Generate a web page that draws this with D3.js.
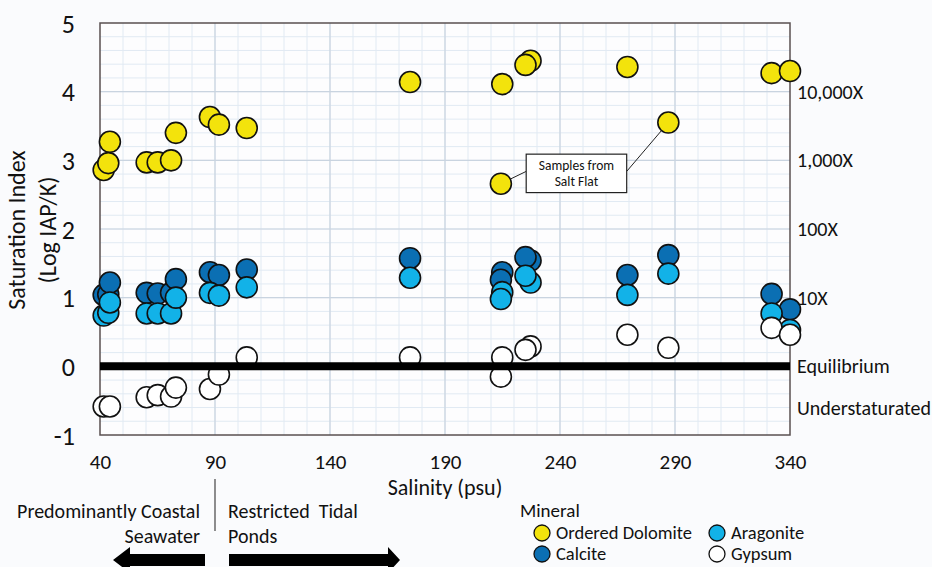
<!DOCTYPE html>
<html>
<head>
<meta charset="utf-8">
<script src="https://cdn.jsdelivr.net/npm/d3@7"></script>
<style>
  body { margin: 0; background: #fafbfd; }
  text { font-family: Carlito, "Liberation Sans Narrow", "Open Sans", sans-serif; fill: #111; }
</style>
</head>
<body>
<script>
// salinity (psu) of each sample, and saturation index per mineral
var salinity  = [41.6, 43.6, 44.3, 60.3, 65.1, 70.9, 73.0, 87.8, 91.7, 103.8, 174.8, 214.9, 214.3, 227.2, 225.0, 269.3, 287.1, 332.0, 340.0];
var dolomite  = [2.86, 2.96, 3.27, 2.97, 2.97, 3.00, 3.40, 3.63, 3.52, 3.47, 4.14, 4.11, 2.66, 4.45, 4.39, 4.36, 3.55, 4.27, 4.30];
var calcite   = [1.04, 1.05, 1.22, 1.07, 1.06, 1.07, 1.27, 1.37, 1.33, 1.41, 1.575, 1.37, 1.26, 1.54, 1.59, 1.33, 1.62, 1.055, 0.83];
var aragonite = [0.74, 0.78, 0.93, 0.77, 0.77, 0.77, 1.00, 1.07, 1.03, 1.15, 1.29, 1.08, 0.98, 1.22, 1.32, 1.04, 1.35, 0.77, 0.53];
var gypsum    = [-0.585, null, -0.585, -0.45, -0.42, -0.44, -0.31, -0.33, -0.12, 0.13, 0.13, 0.13, -0.15, 0.29, 0.24, 0.46, 0.27, 0.56, 0.46];

var minerals = ["Ordered Dolomite", "Calcite", "Aragonite", "Gypsum"];
var mineralColors = ["#f3e30c", "#0b6fb3", "#12b2e8", "#ffffff"];
var seriesValues = [dolomite, calcite, aragonite, gypsum];

var xTicks = [40, 90, 140, 190, 240, 290, 340];
var yTicks = [-1, 0, 1, 2, 3, 4, 5];
var rightLabels = ["10,000X", "1,000X", "100X", "10X", "Equilibrium", "Understaturated"];
var rightLabelSI = [4, 3, 2, 1, 0, -0.6];
var saltFlat = [12, 16]; // sample index of the salt flat points

var width = 932, height = 567;
var margin = {left: 100, right: 142, top: 23, bottom: 132};

var svg = d3.select("body").append("svg")
	.attr("width", width)
	.attr("height", height);

var x = d3.scaleLinear().domain([40, 340]).range([margin.left, width - margin.right]);
var y = d3.scaleLinear().domain([-1, 5]).range([height - margin.bottom, margin.top]);

var plot = svg.append("g");

plot.append("rect")
	.attr("x", x(40)).attr("y", y(5))
	.attr("width", x(340) - x(40)).attr("height", y(-1) - y(5))
	.attr("fill", "#fdfdfe");

// minor grid
plot.selectAll(".vminor").data(d3.range(50, 340, 10))
	.enter().append("line")
	.attr("x1", function(d){ return x(d); }).attr("x2", function(d){ return x(d); })
	.attr("y1", y(5)).attr("y2", y(-1))
	.attr("stroke", "#e1eaf3").attr("stroke-width", 1);
plot.selectAll(".hminor").data(d3.range(-0.8, 5, 0.2))
	.enter().append("line")
	.attr("y1", function(d){ return y(d); }).attr("y2", function(d){ return y(d); })
	.attr("x1", x(40)).attr("x2", x(340))
	.attr("stroke", "#e1eaf3").attr("stroke-width", 1);

// major grid
plot.selectAll(".vmajor").data(xTicks.slice(1, -1))
	.enter().append("line")
	.attr("x1", function(d){ return x(d); }).attr("x2", function(d){ return x(d); })
	.attr("y1", y(5)).attr("y2", y(-1))
	.attr("stroke", "#c9d4e0").attr("stroke-width", 1.2);
plot.selectAll(".hmajor").data(yTicks.slice(1, -1))
	.enter().append("line")
	.attr("y1", function(d){ return y(d); }).attr("y2", function(d){ return y(d); })
	.attr("x1", x(40)).attr("x2", x(340))
	.attr("stroke", "#c9d4e0").attr("stroke-width", 1.2);

// frame
plot.append("rect")
	.attr("x", x(40)).attr("y", y(5))
	.attr("width", x(340) - x(40)).attr("height", y(-1) - y(5))
	.attr("fill", "none").attr("stroke", "#5a5050").attr("stroke-width", 1.5);

// axes (labels only)
var xAxis = svg.append("g")
	.attr("transform", "translate(0," + (y(-1) + 24) + ")")
	.call(d3.axisBottom(x).tickValues(xTicks).tickSize(0).tickFormat(function(d){ return String(d); }));
xAxis.select(".domain").remove();
xAxis.selectAll("text").attr("font-size", 21).attr("dy", "0.35em").attr("fill", "#111");

var yAxis = svg.append("g")
	.attr("transform", "translate(" + (x(40) - 22) + ",0)")
	.call(d3.axisLeft(y).tickValues(yTicks).tickSize(0).tickFormat(function(d){ return String(d); }));
yAxis.select(".domain").remove();
yAxis.selectAll("text").attr("font-size", 26).attr("dy", "0.35em").attr("fill", "#111");

svg.append("text")
	.attr("x", x(190)).attr("y", y(-1) + 60)
	.attr("text-anchor", "middle").attr("font-size", 22)
	.text("Salinity (psu)");

var yTitle = svg.append("text")
	.attr("transform", "translate(25," + (y(2) + 1) + ") rotate(-90)")
	.attr("text-anchor", "middle").attr("font-size", 24);
yTitle.append("tspan").attr("x", 0).attr("dy", 0).text("Saturation Index");
yTitle.append("tspan").attr("x", 0).attr("dy", 31).text("(Log IAP/K)");

// right side labels
svg.selectAll(".rlab").data(rightLabels)
	.enter().append("text")
	.attr("x", x(340) + 7)
	.attr("y", function(d, i){ return y(rightLabelSI[i]); })
	.attr("dy", "0.35em")
	.attr("font-size", 20)
	.text(function(d){ return d; });

// annotation: samples from salt flat
var boxX0 = x(225.3), boxX1 = x(269.0), boxY0 = y(3.09), boxY1 = y(2.53);
saltFlat.forEach(function(i){
	var px = x(salinity[i]), py = y(dolomite[i]);
	var bx = px < boxX0 ? boxX0 : boxX1;
	var by = (boxY0 + boxY1) / 2 - 2;
	var ang = Math.atan2(by - py, bx - px);
	svg.append("line")
		.attr("x1", px + 11 * Math.cos(ang)).attr("y1", py + 11 * Math.sin(ang))
		.attr("x2", bx).attr("y2", by)
		.attr("stroke", "#222").attr("stroke-width", 1);
});
svg.append("rect")
	.attr("x", boxX0).attr("y", boxY0)
	.attr("width", boxX1 - boxX0).attr("height", boxY1 - boxY0)
	.attr("fill", "#fff").attr("stroke", "#222").attr("stroke-width", 1.2);
svg.append("text")
	.attr("x", (boxX0 + boxX1) / 2).attr("y", boxY0 + 16)
	.attr("text-anchor", "middle").attr("font-size", 13.5)
	.text("Samples from");
svg.append("text")
	.attr("x", (boxX0 + boxX1) / 2).attr("y", boxY0 + 32)
	.attr("text-anchor", "middle").attr("font-size", 13.5)
	.text("Salt Flat");

// points
seriesValues.forEach(function(vals, k){
	var pts = vals.map(function(v, i){ return {x: salinity[i], y: v}; })
		.filter(function(d){ return d.y !== null; });
	svg.append("g").selectAll("circle").data(pts)
		.enter().append("circle")
		.attr("cx", function(d){ return x(d.x); })
		.attr("cy", function(d){ return y(d.y); })
		.attr("r", 10.5)
		.attr("fill", mineralColors[k])
		.attr("stroke", "#111").attr("stroke-width", 1.6);
});

// equilibrium line
svg.append("line")
	.attr("x1", x(40)).attr("x2", x(340))
	.attr("y1", y(0)).attr("y2", y(0))
	.attr("stroke", "#000").attr("stroke-width", 8);

// bottom notes
svg.append("line")
	.attr("x1", x(90)).attr("x2", x(90))
	.attr("y1", y(-1) + 44).attr("y2", y(-1) + 96)
	.attr("stroke", "#444").attr("stroke-width", 1.2);
svg.append("text").attr("x", x(90) - 15).attr("y", 518).attr("text-anchor", "end")
	.attr("font-size", 20).text("Predominantly Coastal");
svg.append("text").attr("x", x(90) - 15).attr("y", 543).attr("text-anchor", "end")
	.attr("font-size", 20).text("Seawater");
svg.append("text").attr("x", x(90) + 13).attr("y", 518)
	.attr("font-size", 20).attr("xml:space", "preserve").text("Restricted  Tidal");
svg.append("text").attr("x", x(90) + 13).attr("y", 543)
	.attr("font-size", 20).text("Ponds");

var ay = 560;
svg.append("path")
	.attr("d", "M113," + ay + " L130," + (ay - 13) + " L130," + (ay - 6) + " L205," + (ay - 6) +
		" L205," + (ay + 6) + " L130," + (ay + 6) + " L130," + (ay + 13) + " Z")
	.attr("fill", "#000");
svg.append("path")
	.attr("d", "M400," + ay + " L388," + (ay - 13) + " L388," + (ay - 6) + " L229," + (ay - 6) +
		" L229," + (ay + 6) + " L388," + (ay + 6) + " L388," + (ay + 13) + " Z")
	.attr("fill", "#000");

// legend
var legend = svg.append("g");
legend.append("text").attr("x", 520).attr("y", 517).attr("font-size", 19).text("Mineral");
var legPos = [[542, 533], [542, 554], [717, 533], [717, 554]];
minerals.forEach(function(m, i){
	legend.append("circle")
		.attr("cx", legPos[i][0]).attr("cy", legPos[i][1]).attr("r", 8)
		.attr("fill", mineralColors[i]).attr("stroke", "#111").attr("stroke-width", 1.3);
	legend.append("text")
		.attr("x", legPos[i][0] + 14).attr("y", legPos[i][1]).attr("dy", "0.35em")
		.attr("font-size", 18.5).text(m);
});
</script>
</body>
</html>
